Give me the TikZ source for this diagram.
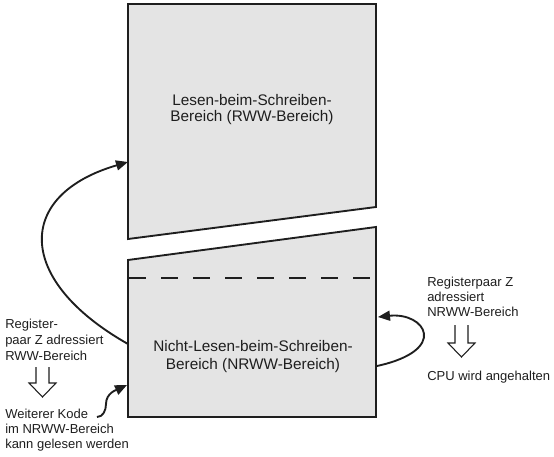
\documentclass[tikz,border=0pt]{standalone}
\usepackage{fontspec}
\setmainfont{Liberation Sans}
\usetikzlibrary{arrows.meta}
\definecolor{areagray}{RGB}{228,228,228}
\definecolor{inkgray}{RGB}{30,30,30}

\begin{document}
\begin{tikzpicture}[x=0.75pt, y=-0.75pt, >={Triangle[length=9pt,width=7.5pt]},
    font=\fontsize{9.75}{11.5}\selectfont, text=inkgray,
    area/.style={draw=inkgray, fill=areagray, line width=1.4pt},
    flow/.style={draw=inkgray, line width=1.4pt, ->},
    hollow/.style={draw=inkgray, fill=white, line width=0.8pt},
    note/.style={align=left, anchor=west, inner sep=0pt}]
    \useasboundingbox (0,0) rectangle (554,457);
    % memory areas
    \filldraw[area] (128,4) -- (376,4) -- (376,207) -- (128,239) -- cycle;
    \filldraw[area] (128,260) -- (376,227) -- (376,417) -- (128,417) -- cycle;
    \draw[inkgray, line width=1.4pt, dash pattern=on 12.5pt off 11.5pt] (129,278) -- (376,278);
    \node[align=center, font=\fontsize{11.5}{12}\selectfont] (rww) at (252,110) {Lesen-beim-Schreiben-\\Bereich (RWW-Bereich)};
    \node[align=center, font=\fontsize{11.5}{13.5}\selectfont] (nrww) at (253,357) {Nicht-Lesen-beim-Schreiben-\\Bereich (NRWW-Bereich)};
    % anchor points on the boxes
    \coordinate (jumpfrom) at (128,344);
    \coordinate (jumpto) at (128,162);
    \coordinate (kodeto) at (127,385);
    \coordinate (stallfrom) at (377,366);
    \coordinate (stallto) at (378,317);
    % left side
    \node[note, font=\fontsize{9.75}{12}\selectfont] (regrww) at (5,340) {Register-\\paar Z adressiert\\RWW-Bereich};
    \node[note] (kode) at (5,430) {Weiterer Kode\\im NRWW-Bereich\\kann gelesen werden};
    \coordinate (kodefrom) at (97,417);
    \draw[hollow] (36,367) -- (36,383) -- (29,383) -- (42.5,397) -- (56,383) -- (49,383) -- (49,367);
    \draw[flow] (jumpfrom) .. controls (15,280) and (15,195) .. (jumpto);
    \draw[flow] (kodefrom) to[out=0, in=-90] (106,404) to[out=90, in=205] (kodeto);
    % right side
    \node[note] (regnrww) at (427,297) {Registerpaar Z\\adressiert\\NRWW-Bereich};
    \node[note] (cpu) at (427,377) {CPU wird angehalten};
    \draw[hollow] (455,325) -- (455,343) -- (448,343) -- (461.5,357) -- (475,343) -- (468,343) -- (468,325);
    \draw[flow] (stallfrom) .. controls (450,350) and (425,312) .. (stallto);
\end{tikzpicture}
\end{document}
